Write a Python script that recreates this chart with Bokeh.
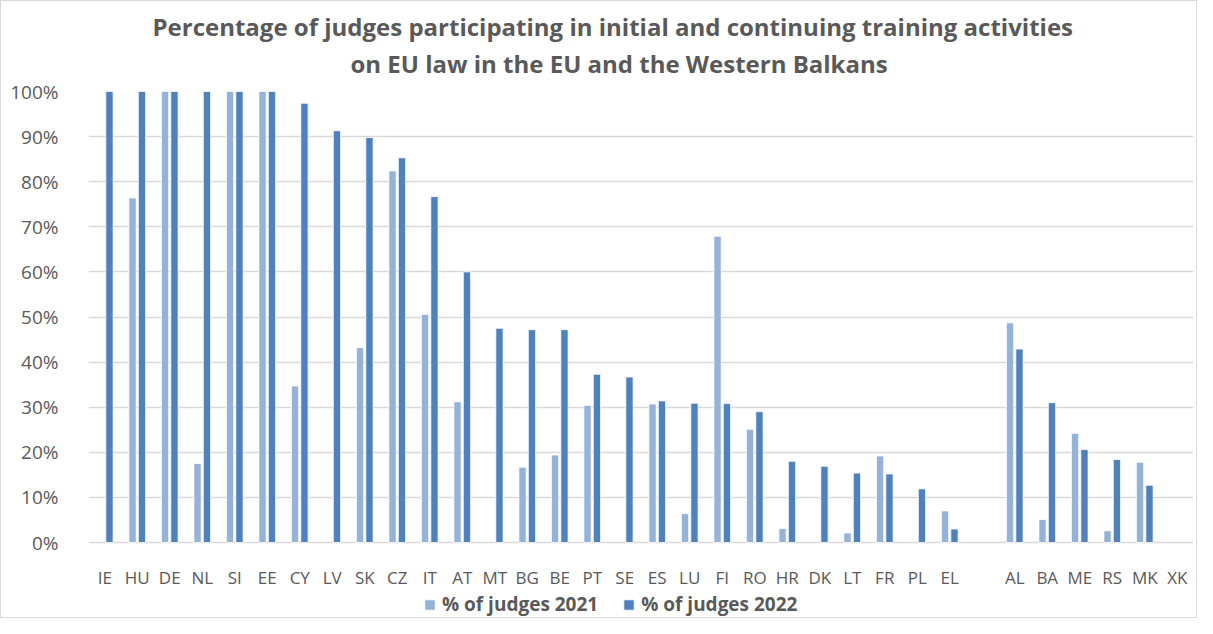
from bokeh.plotting import figure
from bokeh.models import ColumnDataSource, FactorRange, Range1d, PrintfTickFormatter, Legend, LegendItem, Title, FixedTicker
from bokeh.core.properties import value
from bokeh.transform import dodge
from bokeh.embed import file_html
from bokeh.resources import INLINE

nan = float("nan")

countries = ["IE", "HU", "DE", "NL", "SI", "EE", "CY", "LV", "SK", "CZ", "IT", "AT", "MT", "BG",
             "BE", "PT", "SE", "ES", "LU", "FI", "RO", "HR", "DK", "LT", "FR", "PL", "EL", " ",
             "AL", "BA", "ME", "RS", "MK", "XK"]
judges_2021 = [nan, 76.4, 100, 17.5, 100, 100, 34.7, nan, 43.2, 82.4, 50.6, 31.2, nan, 16.7,
               19.4, 30.4, nan, 30.7, 6.4, 67.9, 25.1, 3.1, nan, 2.1, 19.2, nan, 7.0, nan,
               48.7, 5.1, 24.2, 2.6, 17.8, nan]
judges_2022 = [100, 100, 100, 100, 100, 100, 97.4, 91.3, 89.8, 85.3, 76.7, 60.0, 47.5, 47.2,
               47.2, 37.3, 36.7, 31.4, 30.9, 30.8, 29.0, 18.0, 16.9, 15.4, 15.2, 11.9, 3.0, nan,
               42.9, 31.0, 20.6, 18.4, 12.7, nan]
y_ticks = [0, 10, 20, 30, 40, 50, 60, 70, 80, 90, 100]
title_lines = ["Percentage of judges participating in initial and continuing training activities",
               "on EU law in the EU and the Western Balkans"]
series_labels = ["% of judges 2021", "% of judges 2022"]

FONT = "Open Sans"
GREY = "#595959"
C21 = "#95B3D7"
C22 = "#4F81BD"

# layout: the frame runs from the 100 % line down to the bottom edge, so the
# category labels and the legend can live inside it below the 0 % line
PLOT_H = 451          # pixels from 0 % to 100 %
FRAME_H = 526         # full frame height
y_start = -100.0 * (FRAME_H - PLOT_H) / PLOT_H
label_y = -100.0 * 35 / PLOT_H

source = ColumnDataSource(dict(country=countries, y21=judges_2021, y22=judges_2022))

p = figure(x_range=FactorRange(*countries, range_padding=0), y_range=Range1d(y_start, 100),
           frame_width=1105, frame_height=FRAME_H, output_backend="svg", toolbar_location=None,
           x_axis_location=None,
           min_border_left=87, min_border_right=3, min_border_top=90, min_border_bottom=0)
p.styles = {"border": "1px solid #D9D9D9"}

r21 = p.vbar(x=dodge("country", -0.145, range=p.x_range), top="y21", bottom=0, width=0.225,
             source=source, fill_color=C21, line_color="white", line_width=0.8)
r22 = p.vbar(x=dodge("country", 0.145, range=p.x_range), top="y22", bottom=0, width=0.225,
             source=source, fill_color=C22, line_color="white", line_width=0.8)

# category labels under the 0 % line
p.text(x="country", y=label_y, text="country", source=source, text_align="center",
       text_baseline="middle", text_font=value(FONT), text_font_size="17px", text_color=GREY)

p.outline_line_color = None
p.xgrid.grid_line_color = None
p.ygrid.grid_line_color = "#D9D9D9"
p.ygrid.grid_line_width = 1.5
p.yaxis.ticker = FixedTicker(ticks=y_ticks)
p.yaxis.formatter = PrintfTickFormatter(format="%d%%")
p.yaxis.axis_line_color = None
p.yaxis.major_tick_line_color = None
p.yaxis.minor_tick_line_color = None
p.yaxis.major_label_text_font = FONT
p.yaxis.major_label_text_font_size = "19px"
p.yaxis.major_label_text_color = GREY
p.yaxis.major_label_standoff = 24

# two-line title: second line closest to the frame, first line above it
t2 = Title(text=title_lines[1], align="left", offset=262, standoff=24,
           text_font=FONT, text_font_style="bold", text_font_size="24px", text_color=GREY)
t1 = Title(text=title_lines[0], align="left", offset=64, standoff=-20,
           text_font=FONT, text_font_style="bold", text_font_size="24px", text_color=GREY)
p.add_layout(t2, "above")
p.add_layout(t1, "above")

legend = Legend(items=[LegendItem(label=series_labels[0], renderers=[r21]),
                       LegendItem(label=series_labels[1], renderers=[r22])],
                orientation="horizontal", location=(335, 0),
                label_text_font=FONT, label_text_font_style="bold", label_text_font_size="19px",
                label_text_color=GREY, glyph_width=13, glyph_height=13, label_standoff=6,
                spacing=24, padding=0, margin=0, border_line_color=None,
                background_fill_alpha=0, label_height=20)
p.add_layout(legend, "center")

open("out.html", "w").write(file_html(p, INLINE))
